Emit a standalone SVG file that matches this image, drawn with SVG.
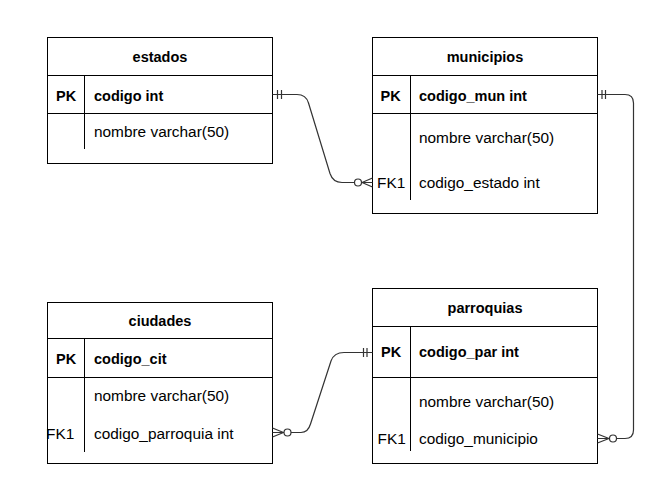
<svg xmlns="http://www.w3.org/2000/svg" width="662" height="496" viewBox="0 0 662 496">
<style>
.box{fill:#fff;stroke:#000;stroke-width:1}
.ln{fill:none;stroke:#000;stroke-width:1}
.cn{fill:none;stroke:#333;stroke-width:1.2}
.ci{fill:#fff;stroke:#333;stroke-width:1.2}
text{font-family:"Liberation Sans",Arial,sans-serif;fill:#000}
.t{font-size:14.5px;font-weight:bold;text-anchor:middle}
.b{font-size:14.5px;font-weight:bold}
.n{font-size:15.4px}
</style>
<rect width="662" height="496" fill="#fff"/>
<g id="estados">
<rect class="box" x="47.5" y="37.5" width="225" height="126"/>
<path class="ln" d="M47.5 75.5H272.5M47.5 113.5H272.5M84.5 75.5V149"/>
<text class="t" x="160" y="62">estados</text>
<text class="b" x="56" y="101">PK</text>
<text class="b" x="94" y="101">codigo int</text>
<text class="n" x="94" y="137">nombre varchar(50)</text>
</g>
<g id="municipios">
<rect class="box" x="372.5" y="37.5" width="225" height="176"/>
<path class="ln" d="M372.5 75.5H597.5M372.5 113.5H597.5M410.5 75.5V200"/>
<text class="t" x="485" y="62">municipios</text>
<text class="b" x="380.5" y="101">PK</text>
<text class="b" x="419" y="101">codigo_mun int</text>
<text class="n" x="419" y="143">nombre varchar(50)</text>
<text class="n" x="377" y="188">FK1</text>
<text class="n" x="419" y="188">codigo_estado int</text>
</g>
<g id="ciudades">
<rect class="box" x="47.5" y="302.5" width="225" height="161"/>
<path class="ln" d="M47.5 338.5H272.5M47.5 377.5H272.5M84.5 338.5V452"/>
<text class="t" x="160" y="326">ciudades</text>
<text class="b" x="56" y="364">PK</text>
<text class="b" x="94" y="364">codigo_cit</text>
<text class="n" x="94" y="401">nombre varchar(50)</text>
<text class="n" x="46" y="439">FK1</text>
<text class="n" x="94" y="439">codigo_parroquia int</text>
</g>
<g id="parroquias">
<rect class="box" x="372.5" y="288.5" width="225" height="175"/>
<path class="ln" d="M372.5 326.5H597.5M372.5 377.5H597.5M410.5 326.5V451"/>
<text class="t" x="485" y="313">parroquias</text>
<text class="b" x="381" y="357">PK</text>
<text class="b" x="419" y="357">codigo_par int</text>
<text class="n" x="419" y="407">nombre varchar(50)</text>
<text class="n" x="377.5" y="444">FK1</text>
<text class="n" x="419" y="444">codigo_municipio</text>
</g>
<g id="connectors">
<path class="cn" d="M272.5 94.5H297Q306 94.5 308.5 103L330 173.5Q333 182.5 342 182.5H354.5"/>
<path class="cn" d="M277.5 90V99M281.5 90V99"/>
<circle class="ci" cx="358" cy="182.5" r="3.5"/>
<path class="cn" d="M361.5 182.5H372.5M362 182.5L372.5 178M362 182.5L372.5 187"/>
<path class="cn" d="M597.5 94.5H625Q633.5 94.5 633.5 103V430Q633.5 438.5 625 438.5H616.5"/>
<path class="cn" d="M602 90V99M605.5 90V99"/>
<circle class="ci" cx="613" cy="438.5" r="3.5"/>
<path class="cn" d="M609.5 438.5H597.5M609 438.5L597.5 434M609 438.5L597.5 443"/>
<path class="cn" d="M291 432.5H301Q308 432.5 310.5 424L331 361Q334 352.5 344 352.5H372.5"/>
<path class="cn" d="M363.5 348V357M367 348V357"/>
<circle class="ci" cx="287.5" cy="432.5" r="3.5"/>
<path class="cn" d="M284 432.5H272.5M283.5 432.5L272.5 428M283.5 432.5L272.5 437"/>
</g>
</svg>
